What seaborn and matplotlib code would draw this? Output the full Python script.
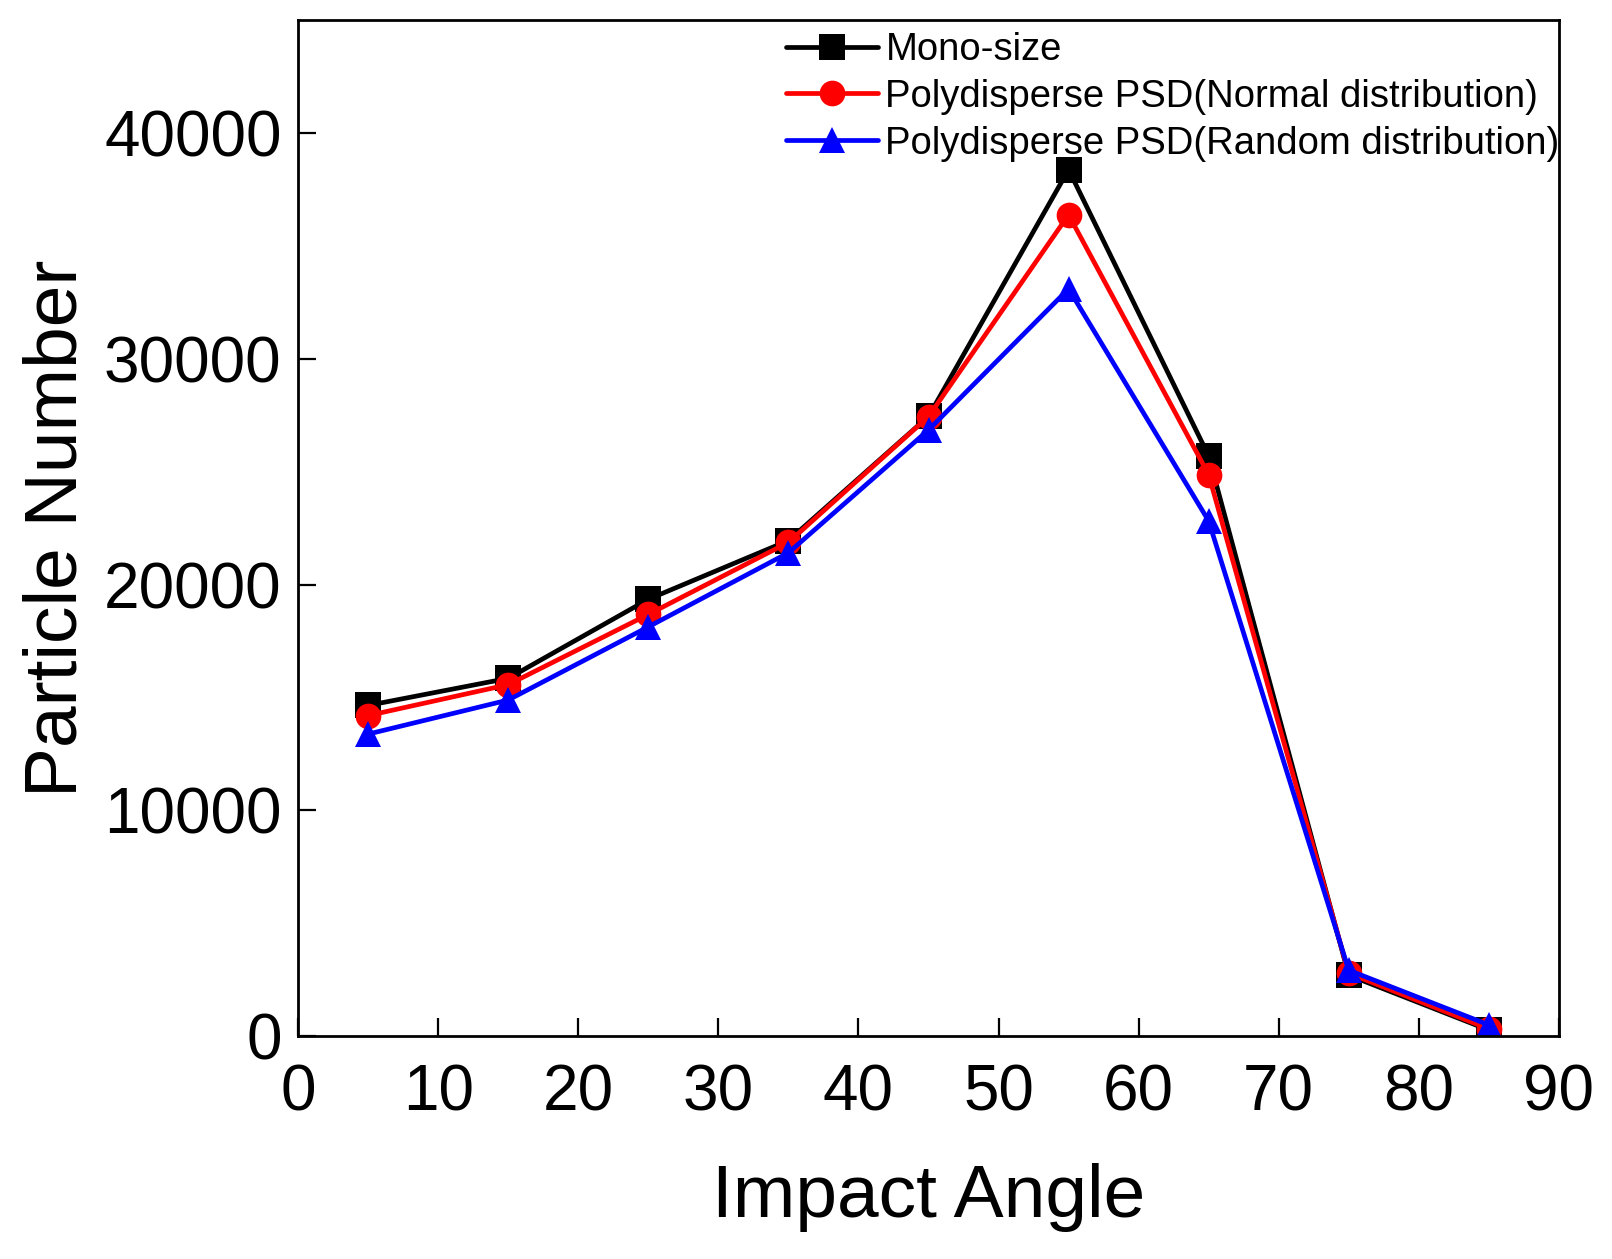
import numpy as np
import pandas as pd
import matplotlib
matplotlib.use("Agg")
import matplotlib.pyplot as plt
import seaborn as sns

angles = [5, 15, 25, 35, 45, 55, 65, 75, 85]
mono = [14650, 15850, 19350, 21950, 27450, 38380, 25700, 2700, 270]
normal = [14200, 15570, 18680, 21870, 27440, 36380, 24870, 2790, 320]
random_ = [13380, 14890, 18130, 21410, 26850, 33100, 22820, 2920, 500]

labels = ["Mono-size",
          "Polydisperse PSD(Normal distribution)",
          "Polydisperse PSD(Random distribution)"]
colors = ["black", "red", "blue"]
markers = ["s", "o", "^"]

df = pd.concat([
    pd.DataFrame({"angle": angles, "count": vals, "case": lab})
    for vals, lab in zip([mono, normal, random_], labels)
])

sns.set_theme(style="ticks")
plt.rcParams['font.family'] = ['Liberation Sans', 'DejaVu Sans']
plt.rcParams['text.color'] = 'black'
plt.rcParams['axes.labelcolor'] = 'black'
plt.rcParams['xtick.color'] = 'black'
plt.rcParams['ytick.color'] = 'black'

fig = plt.figure(figsize=(16.12, 12.59), dpi=100)
ax = fig.add_axes([0.185, 0.177, 0.782, 0.807])

sns.lineplot(data=df, x="angle", y="count", hue="case", style="case",
             hue_order=labels, style_order=labels,
             palette=colors, markers=markers, dashes=False,
             linewidth=3.4, markersize=18.5, markeredgewidth=0, ax=ax)

ax.set_xlim(0, 90)
ax.set_ylim(0, 45000)
ax.set_xticks(range(0, 91, 10))
ax.set_yticks(range(0, 40001, 10000))
ax.tick_params(direction="in", length=13, width=1.6, labelsize=46)
ax.tick_params(axis="x", pad=20)
ax.tick_params(axis="y", pad=12)
for s in ax.spines.values():
    s.set_linewidth(2)
    s.set_color("black")
ax.set_xlabel("Impact Angle", fontsize=54, labelpad=28)
ax.set_ylabel("Particle Number", fontsize=54, labelpad=9)

leg = ax.legend(loc="upper right", bbox_to_anchor=(1.028, 1.022), frameon=False,
                fontsize=27.5, handlelength=2.4, handletextpad=0.2, labelspacing=0.28)

fig.savefig("out.png", dpi=100)
